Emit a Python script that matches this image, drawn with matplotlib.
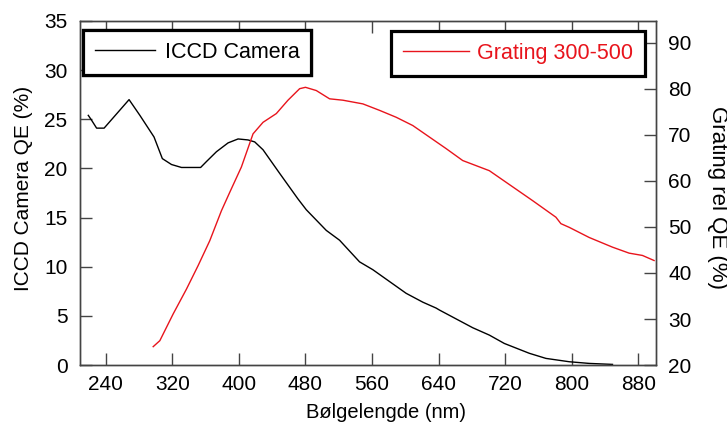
import numpy as np
import matplotlib
matplotlib.use('Agg')
import matplotlib.pyplot as plt

plt.rcParams['font.family'] = ['Liberation Sans', 'DejaVu Sans']

# ICCD camera QE (%), left axis
iccd_nm = [219, 223, 229, 238, 268, 281, 298, 308, 319, 331, 354, 361, 373, 387,
           399, 411, 419, 429, 449, 471, 481, 505, 521, 545, 561, 581, 601, 621,
           637, 641, 661, 681, 701, 719, 749, 769, 797, 821, 849]
iccd_qe = [25.4, 24.9, 24.1, 24.1, 27.0, 25.4, 23.2, 21.0, 20.4, 20.1, 20.1, 20.7,
           21.7, 22.6, 23.0, 22.9, 22.7, 21.9, 19.5, 16.9, 15.8, 13.7, 12.7, 10.5,
           9.7, 8.5, 7.3, 6.4, 5.8, 5.6, 4.7, 3.8, 3.05, 2.2, 1.2, 0.68, 0.34, 0.17,
           0.07]

# grating relative QE (%), right axis
grat_nm = [297, 305, 321, 337, 351, 365, 379, 389, 403, 417, 429, 445, 459, 473,
           480, 493, 509, 525, 549, 569, 589, 609, 629, 649, 669, 685, 701, 721,
           753, 781, 787, 797, 821, 849, 869, 885, 899]
grat_qe = [24.0, 25.3, 31.1, 36.5, 41.6, 47.0, 53.5, 57.5, 63.0, 70.2, 72.7, 74.6,
           77.5, 80.0, 80.3, 79.6, 77.8, 77.5, 76.7, 75.3, 73.8, 72.0, 69.5, 67.0,
           64.4, 63.3, 62.2, 59.7, 55.7, 52.1, 50.7, 49.9, 47.7, 45.6, 44.3, 43.8,
           42.7]

x_ticks = [240, 320, 400, 480, 560, 640, 720, 800, 880]
left_ticks = [0, 5, 10, 15, 20, 25, 30, 35]
right_ticks = [20, 30, 40, 50, 60, 70, 80, 90]

spine_col = '#444444'
red = '#e8141c'
fs = 15

fig = plt.figure(figsize=(7.27, 4.28), dpi=100)
ax = fig.add_axes([0.110, 0.147, 0.792, 0.804])
ax2 = ax.twinx()

l1, = ax.plot(iccd_nm, iccd_qe, color='black', lw=1.0, label='ICCD Camera')
l2, = ax2.plot(grat_nm, grat_qe, color=red, lw=1.0, label='Grating 300-500')

ax.set_xlim(209, 901)
ax.set_ylim(0, 35)
ax2.set_ylim(20, 94.7)

ax.set_xticks(x_ticks)
ax.set_yticks(left_ticks)
ax2.set_yticks(right_ticks)

ax.tick_params(axis='x', direction='in', length=8.5, width=1, color=spine_col,
               top=True, labelsize=fs, pad=7)
ax.tick_params(axis='y', direction='in', length=8.5, width=1, color=spine_col,
               labelsize=fs, pad=9)
ax2.tick_params(axis='y', direction='in', length=8.5, width=1, color=spine_col,
                labelsize=fs, pad=9)

for a in (ax, ax2):
    for s in a.spines.values():
        s.set_color(spine_col)
        s.set_linewidth(1.0)

ax.set_xlabel('Bølgelengde (nm)', fontsize=14.5)
ax.xaxis.set_label_coords(0.531, -0.110)
ax.set_ylabel('ICCD Camera QE (%)', fontsize=15)
ax.yaxis.set_label_coords(-0.082, 0.512)
ax2.set_ylabel('Grating rel QE (%)', fontsize=16, rotation=-90)
ax2.yaxis.set_label_coords(1.126, 0.486)

leg1 = ax.legend(handles=[l1], loc='upper left', bbox_to_anchor=(0.005, 0.974),
                 borderaxespad=0, fontsize=15.5, fancybox=False, handlelength=2.8,
                 handletextpad=0.45, borderpad=0.55, framealpha=1)
leg1.get_frame().set_edgecolor('black')
leg1.get_frame().set_linewidth(2.3)
ax.add_artist(leg1)

leg2 = ax2.legend(handles=[l2], loc='upper right', bbox_to_anchor=(0.981, 0.971),
                  borderaxespad=0, fontsize=15.5, fancybox=False, handlelength=3.1,
                  handletextpad=0.35, borderpad=0.55, framealpha=1)
leg2.get_frame().set_edgecolor('black')
leg2.get_frame().set_linewidth(2.3)
for t in leg2.get_texts():
    t.set_color(red)

fig.savefig('out.png', dpi=100)
